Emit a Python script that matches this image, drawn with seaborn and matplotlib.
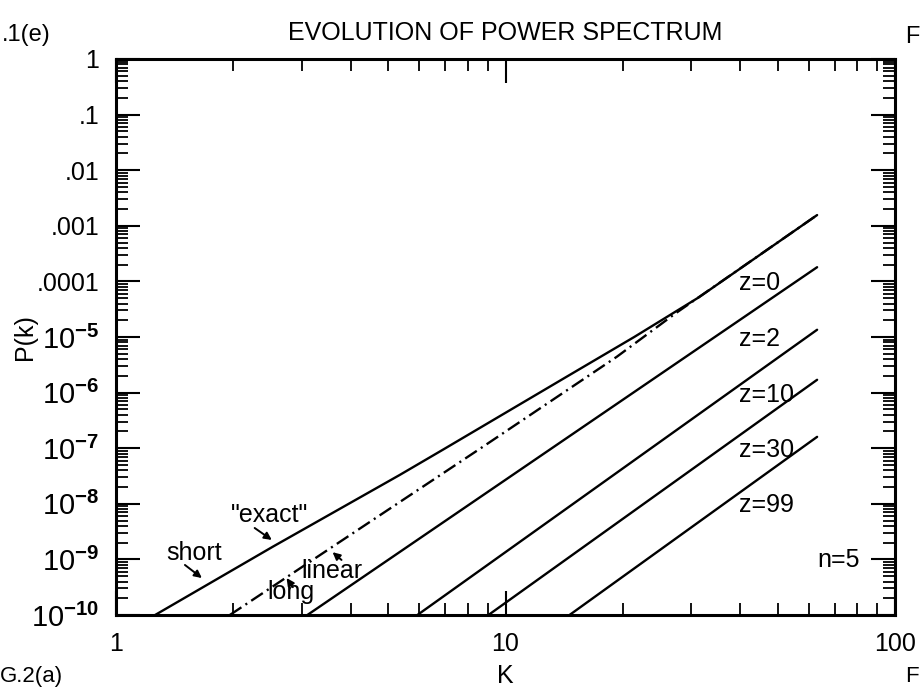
import numpy as np
import pandas as pd
import matplotlib
matplotlib.use('Agg')
import matplotlib.pyplot as plt
import matplotlib.ticker as mticker
import seaborn as sns

# Datos (k, P(k))
exact_k = [1.26, 2.53, 5.35, 6.89, 14.3, 21.4, 31.4, 63.1]
exact_p = [1e-10, 1.7e-9, 3.3e-8, 9.3e-8, 1.9e-6, 1.0e-5, 5.2e-5, 1.56e-3]

linear_k = [1.96, 8.73, 19.3, 27.4, 63.1]
linear_p = [1e-10, 1.05e-7, 4.4e-6, 2.7e-5, 1.56e-3]

z2_k = [3.1, 63.1]
z2_p = [1e-10, 1.8e-4]
z10_k = [5.94, 63.1]
z10_p = [1e-10, 1.35e-5]
z30_k = [9.04, 63.1]
z30_p = [1e-10, 1.7e-6]
z99_k = [14.6, 63.1]
z99_p = [1e-10, 1.6e-7]

etiquetas_z = ['z=0', 'z=2', 'z=10', 'z=30', 'z=99']
etiquetas_z_p = [10**-4.03, 10**-5.04, 10**-6.04, 10**-7.03, 10**-8.02]

ytick_vals = [1, 1e-1, 1e-2, 1e-3, 1e-4, 1e-5, 1e-6, 1e-7, 1e-8, 1e-9, 1e-10]
ytick_labels = ['1', '.1', '.01', '.001', '.0001',
                r'$10^{\mathbf{-5}}$', r'$10^{\mathbf{-6}}$', r'$10^{\mathbf{-7}}$',
                r'$10^{\mathbf{-8}}$', r'$10^{\mathbf{-9}}$', r'$10^{\mathbf{-10}}$']
xtick_vals = [1, 10, 100]
xtick_labels = ['1', '10', '100']

# Estilo
sns.set_style('ticks')
plt.rcParams['font.family'] = ['Liberation Sans', 'DejaVu Sans']
plt.rcParams['mathtext.fontset'] = 'custom'
plt.rcParams['mathtext.rm'] = 'Liberation Sans'
plt.rcParams['mathtext.bf'] = 'Liberation Sans:bold'
plt.rcParams['lines.scale_dashes'] = False
for clave in ['text.color', 'axes.labelcolor', 'xtick.color', 'ytick.color', 'axes.edgecolor']:
    plt.rcParams[clave] = 'black'

fig = plt.figure(figsize=(9.21, 6.88), dpi=100)
ax = fig.add_axes([116/921, 1 - 615/688, (895 - 116)/921, (615 - 59)/688])
ax.set_xscale('log')
ax.set_yscale('log')

lw = 1.7
sns.lineplot(x=exact_k, y=exact_p, color='k', lw=lw, estimator=None, sort=False, ax=ax)
sns.lineplot(x=linear_k, y=linear_p, color='k', lw=lw, estimator=None, sort=False, ax=ax)
ax.lines[-1].set_dashes([10, 3.5, 1.5, 3.5])
for kk, pp in [(z2_k, z2_p), (z10_k, z10_p), (z30_k, z30_p), (z99_k, z99_p)]:
    sns.lineplot(x=kk, y=pp, color='k', lw=lw, estimator=None, sort=False, ax=ax)

ax.set_xlim(1, 100)
ax.set_ylim(1e-10, 1)

# Ejes y ticks
for s in ax.spines.values():
    s.set_linewidth(2.2)
    s.set_visible(True)
ax.set_xticks(xtick_vals, xtick_labels)
ax.set_yticks(ytick_vals, ytick_labels)
ax.xaxis.set_minor_locator(mticker.LogLocator(base=10, subs=np.arange(2, 10), numticks=50))
ax.yaxis.set_minor_locator(mticker.LogLocator(base=10, subs=np.arange(2, 10), numticks=50))
ax.xaxis.set_minor_formatter(mticker.NullFormatter())
ax.yaxis.set_minor_formatter(mticker.NullFormatter())
ax.tick_params(which='both', direction='in', top=True, right=True, color='k')
ax.tick_params(which='major', length=17, width=1.5, labelsize=18)
ax.tick_params(which='minor', length=8.5, width=1.3)
ax.tick_params(axis='y', which='major', pad=12)
ax.tick_params(axis='x', which='major', pad=12)
for lab in ax.get_yticklabels():
    if lab.get_text().startswith('$'):
        lab.set_fontsize(21)

ax.set_xlabel('K', fontsize=18, labelpad=6)
ax.set_ylabel('P(k)', fontsize=18)
ax.yaxis.set_label_coords(-0.102, 0.5)
ax.set_title('EVOLUTION OF POWER SPECTRUM', fontsize=18, pad=14)

# Etiquetas de las curvas
for txt, yp in zip(etiquetas_z, etiquetas_z_p):
    ax.text(39.8, yp, txt, fontsize=18, ha='left', va='center')
ax.text(63.1, 10**-9.01, 'n=5', fontsize=18, ha='left', va='center')

# Textos con flechas
ax.text(10**0.2, 10**-8.885, 'short', fontsize=18, ha='center', va='center')
ax.text(10**0.395, 10**-8.20, '"exact"', fontsize=18, ha='center', va='center')
ax.text(10**0.554, 10**-9.21, 'linear', fontsize=18, ha='center', va='center')
ax.text(10**0.449, 10**-9.587, 'long', fontsize=18, ha='center', va='center')
flechas = [((10**0.177, 10**-9.10), (10**0.2205, 10**-9.335)),
           ((10**0.356, 10**-8.435), (10**0.4, 10**-8.65)),
           ((10**0.579, 10**-9.01), (10**0.556, 10**-8.87)),
           ((10**0.454, 10**-9.50), (10**0.438, 10**-9.335))]
for cola, punta in flechas:
    ax.annotate('', xy=punta, xytext=cola,
                arrowprops=dict(arrowstyle='-|>', color='k', lw=1.4, mutation_scale=11,
                                shrinkA=0, shrinkB=0))

# Restos de la página (en el original quedan cortados por el borde)
fig.text(2/921, 1 - 35/688, '.1(e)', fontsize=17, ha='left', va='center')
fig.text(905/921, 1 - 37/688, 'F', fontsize=17, ha='left', va='center')
fig.text(0/921, 1 - 687/688, 'G.2(a)', fontsize=16, ha='left', va='bottom')
fig.text(905/921, 1 - 687/688, 'F', fontsize=16, ha='left', va='bottom')

fig.savefig('out.png', dpi=100)
